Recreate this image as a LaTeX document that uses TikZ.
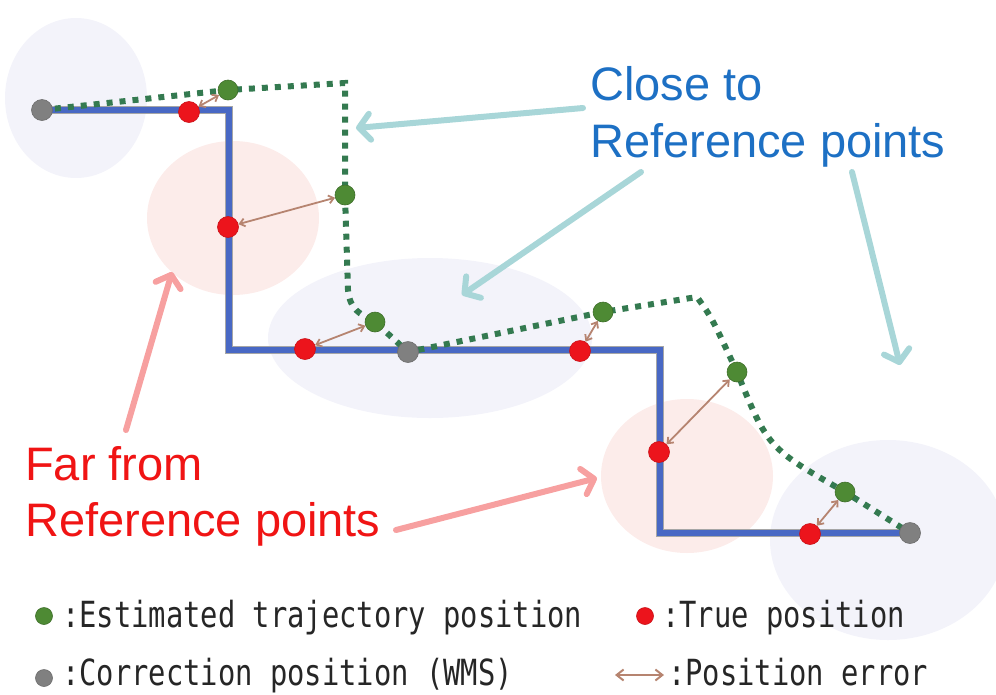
\documentclass[tikz,border=0pt]{standalone}
\usepackage{fontspec}
\setmainfont{Liberation Sans}
\newfontfamily\legendfont[FakeStretch=0.8]{DejaVu Sans Mono}
\usetikzlibrary{arrows.meta}

\definecolor{haloblue}{RGB}{243,243,250}
\definecolor{halopink}{RGB}{252,236,234}
\definecolor{trackblue}{RGB}{72,104,196}
\definecolor{estgreen}{RGB}{52,122,80}
\definecolor{dotgreen}{RGB}{78,138,52}
\definecolor{dotred}{RGB}{236,20,28}
\definecolor{dotgrey}{RGB}{128,128,128}
\definecolor{errbrown}{RGB}{182,132,112}
\definecolor{calloutteal}{RGB}{168,214,216}
\definecolor{calloutpink}{RGB}{247,160,160}
\definecolor{closeblue}{RGB}{29,112,196}
\definecolor{farred}{RGB}{240,20,20}

\pgfdeclarelayer{halo}
\pgfdeclarelayer{track}
\pgfsetlayers{halo,track,main}

\tikzset{
  estdot/.style={circle,inner sep=0pt,minimum size=20pt,fill=dotgreen,draw=dotgreen!80!black,line width=0.6pt},
  truedot/.style={circle,inner sep=0pt,minimum size=21pt,fill=dotred,draw=dotred!85!black,line width=0.6pt},
  corrdot/.style={circle,inner sep=0pt,minimum size=21pt,fill=dotgrey,draw=dotgrey!85!black,line width=0.6pt},
  errarrow/.style={{Straight Barb[length=5pt,width=8pt]}-{Straight Barb[length=5pt,width=8pt]},draw=errbrown,line width=1.8pt},
  calloutarrow/.style={-{Straight Barb[length=11pt,width=26pt,round]},line width=6pt,line cap=round},
  bigtext/.style={anchor=base west,inner sep=0pt,font=\fontsize{47}{56}\selectfont},
  legendtext/.style={anchor=base west,inner sep=0pt,text=black!85,font=\legendfont\fontsize{36}{40}\selectfont}
}

\begin{document}
\begin{tikzpicture}[x=1pt,y=-1pt]
  \useasboundingbox (0,0) rectangle (996,694);

  % regions round the points
  \begin{pgfonlayer}{halo}
    \fill[haloblue] (76,98) ellipse [x radius=71pt, y radius=80pt];
    \fill[halopink] (233,218) ellipse [x radius=86pt, y radius=77pt];
    \fill[haloblue] (430,338) ellipse [x radius=162pt, y radius=80pt];
    \fill[halopink] (687,476) ellipse [x radius=86pt, y radius=77pt];
    \fill[haloblue] (888,540) ellipse [x radius=118pt, y radius=100pt];
  \end{pgfonlayer}

  % points
  \draw
    (42,110) node[corrdot] (c0){}
    (408,352) node[corrdot] (c1){}
    (910,533) node[corrdot] (c2){}
    (228,90) node[estdot] (e1){}
    (345,195) node[estdot] (e2){}
    (375,322) node[estdot] (e3){}
    (603,312) node[estdot] (e4){}
    (737,372) node[estdot] (e5){}
    (845,492) node[estdot] (e6){}
    (189,112) node[truedot] (t1){}
    (228,227) node[truedot] (t2){}
    (305,349) node[truedot] (t3){}
    (580,351) node[truedot] (t4){}
    (659,452) node[truedot] (t5){}
    (810,534) node[truedot] (t6){};

  \coordinate (b1) at (229,110);
  \coordinate (b2) at (229,350);
  \coordinate (b3) at (660,350);
  \coordinate (b4) at (660,533);
  \coordinate (k1) at (345,83);
  \coordinate (k2) at (348,290);
  \coordinate (k3) at (697,297);

  % trajectories
  \begin{pgfonlayer}{track}
    \draw[line width=8.5pt,draw=black!35,line join=miter]
      (c0.center) -- (b1) -- (b2) -- (b3) -- (b4) -- (c2.center);
    \draw[line width=6.5pt,draw=trackblue,line join=miter]
      (c0.center) -- (b1) -- (b2) -- (b3) -- (b4) -- (c2.center);
    \draw[line width=6pt,draw=estgreen,dash pattern=on 6pt off 7pt]
      (c0.center) -- (e1.center) -- (k1) -- (e2.center) -- (k2)
      .. controls (350,310) and (360,314) .. (e3.center) -- (c1.center)
      -- (e4.center) -- (k3) .. controls (712,318) .. (e5.center)
      .. controls (768,448) .. (e6.center) -- (c2.center);
  \end{pgfonlayer}

  % position errors
  \begin{scope}[errarrow]
    \draw (t1) to (e1);
    \draw (t2) to (e2);
    \draw (t3) to (e3);
    \draw (t4) to (e4);
    \draw (t5) to (e5);
    \draw (t6) to (e6);
  \end{scope}

  % labels
  \node[bigtext,text=closeblue] (close1) at (590,100) {Close to};
  \node[bigtext,text=closeblue] (close2) at (590,157) {Reference points};
  \node[bigtext,text=farred] (far1) at (25,480) {Far from};
  \node[bigtext,text=farred] (far2) at (25,536) {Reference points};

  \coordinate (ca) at (583,108);
  \coordinate (cb) at (641,172);
  \coordinate (cc) at (852,172);
  \coordinate (fa) at (126,430);
  \coordinate (fb) at (396,530);
  \coordinate (ta) at (356,128);
  \coordinate (tb) at (462,295);
  \coordinate (tc) at (900,365);
  \coordinate (pa) at (172,272);
  \coordinate (pb) at (597,478);
  \begin{scope}[calloutarrow]
    \draw[draw=calloutteal] (ca) to (ta);
    \draw[draw=calloutteal] (cb) to (tb);
    \draw[draw=calloutteal] (cc) to (tc);
    \draw[draw=calloutpink] (fa) to (pa);
    \draw[draw=calloutpink] (fb) to (pb);
  \end{scope}

  % legend
  \node[estdot,minimum size=17pt] (le) at (44,616) {};
  \node[legendtext] (lte) at (62,627) {:Estimated trajectory position};
  \node[truedot,minimum size=17pt] (lt) at (645,616) {};
  \node[legendtext] (ltt) at (662,627) {:True position};
  \node[corrdot,minimum size=17pt] (lc) at (44,678) {};
  \node[legendtext] (ltc) at (62,685) {:Correction position (WMS)};
  \coordinate (la1) at (615,675);
  \coordinate (la2) at (664,675);
  \draw[errarrow,{Straight Barb[length=7pt,width=11pt]}-{Straight Barb[length=7pt,width=11pt]},line width=2pt] (la1) to (la2);
  \node[legendtext] (lta) at (668,685) {:Position error};
\end{tikzpicture}
\end{document}
